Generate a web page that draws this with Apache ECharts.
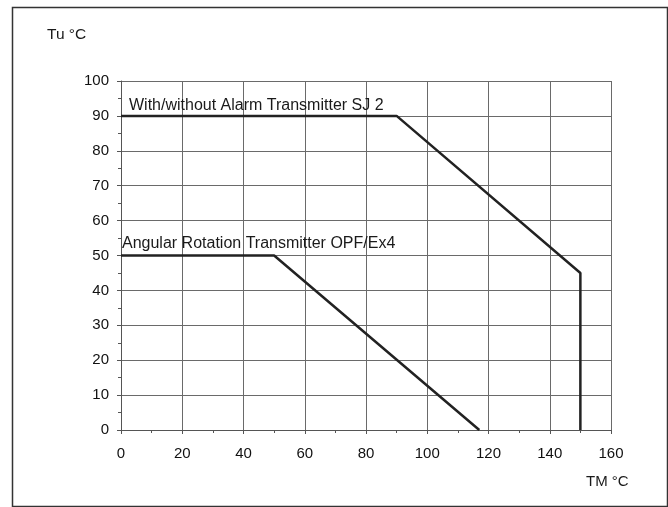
<!DOCTYPE html>
<html>
<head>
<meta charset="utf-8">
<script src="https://cdn.jsdelivr.net/npm/echarts@6/dist/echarts.min.js"></script>
<style>
html,body{margin:0;padding:0;background:#fff;}
#c{width:668px;height:507px;}
</style>
</head>
<body>
<div id="c"></div>
<script>
const xTicks = [0, 20, 40, 60, 80, 100, 120, 140, 160];
const yTicks = [0, 10, 20, 30, 40, 50, 60, 70, 80, 90, 100];
const sj2Label = 'With/without Alarm Transmitter SJ 2';
const sj2X = [0, 90, 150, 150];
const sj2Y = [90, 90, 45, 0];
const opfLabel = 'Angular Rotation Transmitter OPF/Ex4';
const opfX = [0, 50, 117];
const opfY = [50, 50, 0];
const xName = 'TM °C';
const yName = 'Tu °C';

const font = 'Liberation Sans, Arial, sans-serif';
function pts(xs, ys, label, off) {
  return xs.map((x, i) => {
    const p = { value: [x, ys[i]] };
    if (i === 0) {
      p.label = { show: true, formatter: label, position: off, color: '#1a1a1a',
        fontFamily: font, fontSize: 16 };
    }
    return p;
  });
}
const chart = echarts.init(document.getElementById('c'));
chart.setOption({
  backgroundColor: '#fff',
  animation: false,
  title: [
    { text: yName, left: 42, top: 22, textStyle: { fontFamily: font, fontSize: 15.5, fontWeight: 'normal', color: '#1a1a1a' } },
    { text: xName, left: 581, top: 469, textStyle: { fontFamily: font, fontSize: 15, fontWeight: 'normal', color: '#1a1a1a' } }
  ],
  graphic: [{
    type: 'rect', left: 10, top: 5,
    shape: { width: 655, height: 499 },
    style: { fill: 'none', stroke: '#333', lineWidth: 1.5 }
  }],
  grid: { left: 121, right: 57, top: 81, bottom: 77 },
  xAxis: {
    type: 'value', min: 0, max: 160, interval: 20,
    axisLine: { show: true, onZero: false, lineStyle: { color: '#555', width: 1 } },
    axisTick: { show: true, length: 4, lineStyle: { color: '#555' } },
    minorTick: { show: true, splitNumber: 2, length: 3, lineStyle: { color: '#555' } },
    splitLine: { show: true, lineStyle: { color: '#6a6a6a', width: 1 } },
    axisLabel: { color: '#111', fontFamily: font, fontSize: 15, margin: 16,
      formatter: v => xTicks.includes(v) ? String(v) : '' }
  },
  yAxis: {
    type: 'value', min: 0, max: 100, interval: 10,
    axisLine: { show: true, onZero: false, lineStyle: { color: '#555', width: 1 } },
    axisTick: { show: true, length: 4, lineStyle: { color: '#555' } },
    minorTick: { show: true, splitNumber: 2, length: 3, lineStyle: { color: '#555' } },
    splitLine: { show: true, lineStyle: { color: '#6a6a6a', width: 1 } },
    axisLabel: { color: '#111', fontFamily: font, fontSize: 15, margin: 12,
      formatter: v => yTicks.includes(v) ? String(v) : '' }
  },
  series: [
    {
      type: 'line', data: pts(sj2X, sj2Y, sj2Label, [8, -18]),
      symbol: 'circle', symbolSize: 0.01, showSymbol: true,
      lineStyle: { color: '#222', width: 2.5 }, itemStyle: { color: '#222' }
    },
    {
      type: 'line', data: pts(opfX, opfY, opfLabel, [1, -20]),
      symbol: 'circle', symbolSize: 0.01, showSymbol: true,
      lineStyle: { color: '#222', width: 2.5 }, itemStyle: { color: '#222' }
    }
  ]
});
</script>
</body>
</html>
